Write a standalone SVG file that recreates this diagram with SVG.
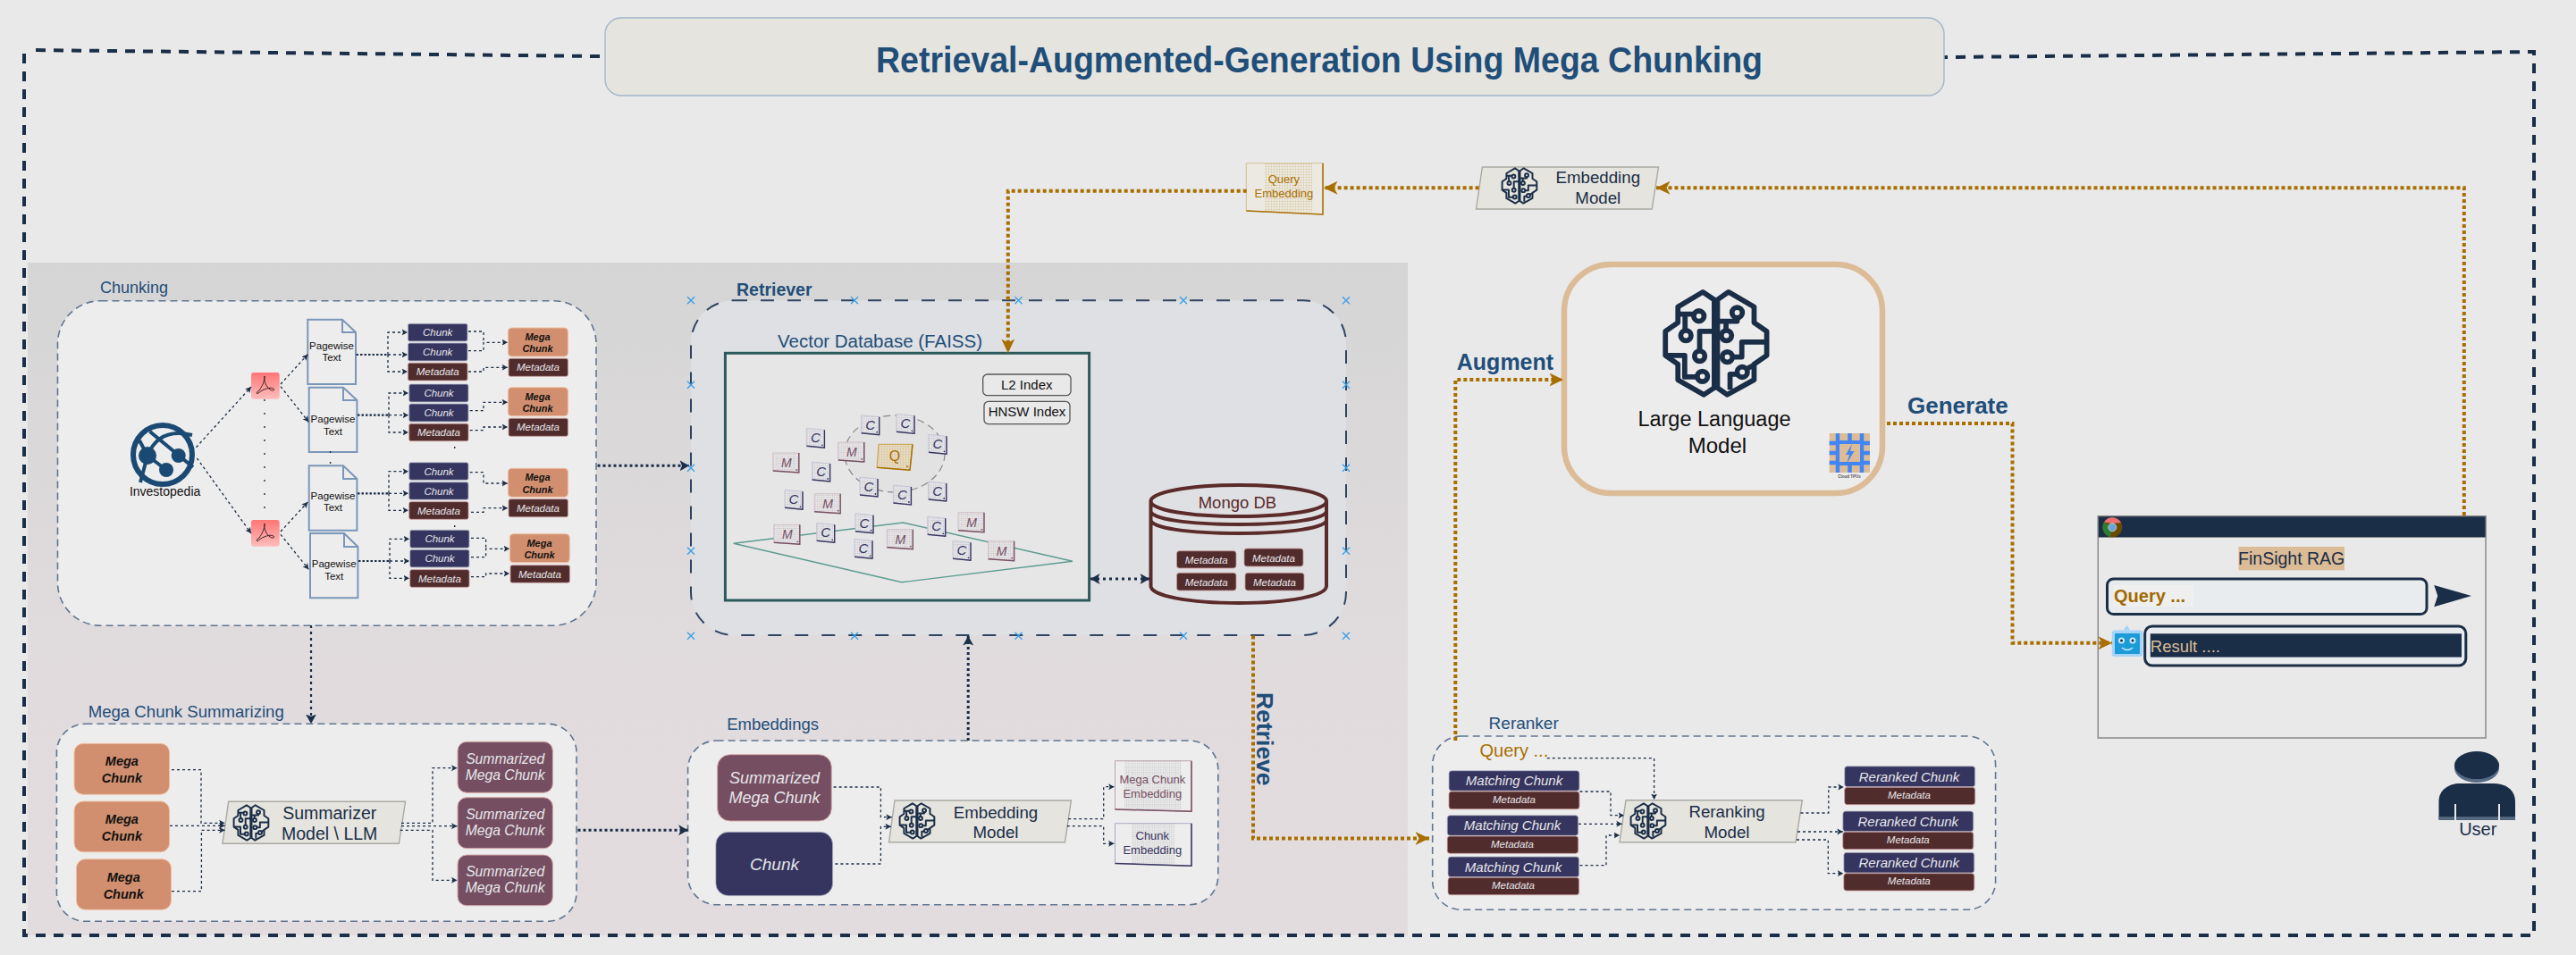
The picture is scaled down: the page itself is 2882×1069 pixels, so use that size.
<svg xmlns="http://www.w3.org/2000/svg" width="2882" height="1069" viewBox="0 0 2882 1069">
<style>
text{font-family:"Liberation Sans",Arial,sans-serif;text-anchor:middle}
.l{text-anchor:start;fill:#1f4e79;font-size:18.500px}
.hd{font-weight:700}
.panel{fill:#eeeded;stroke:#5f7690;stroke-width:1.600;stroke-dasharray:8 5}
.chunk{fill:#36355f;stroke:#b9bccb;stroke-width:.8}
.meta{fill:#512c2c;stroke:#c89a9a;stroke-width:.8}
.mega{fill:#d18f6f;stroke:#f0c0a5;stroke-width:1}
.sum{fill:#754f61;stroke:#d5a9a9;stroke-width:1}
.tc{fill:#e6e6ea;font-size:11.500px;font-style:italic}
.tmg{fill:#111;font-size:11px;font-style:italic;font-weight:700}
.tmb{fill:#111;font-size:14.500px;font-style:italic;font-weight:700}
.ts{fill:#e6e6ea;font-size:15.700px;font-style:italic}
.tl{fill:#e6e6ea;font-size:18px;font-style:italic}
.tw{fill:#e6e6ea;font-size:15px;font-style:italic}
.doc{fill:#eeeded;stroke:#7a96b8;stroke-width:2}
.td{fill:#111;font-size:11.500px}
.par{fill:#e6e4de;stroke:#a9a9a3;stroke-width:1.400}
.tp{fill:#1a2e47;font-size:18.700px}
.c1{fill:none;stroke:#1a2e47;stroke-width:1.300;stroke-dasharray:3 3;marker-end:url(#s)}
.c0{fill:none;stroke:#1a2e47;stroke-width:1.300;stroke-dasharray:3 3}
.c2{fill:none;stroke:#1a2e47;stroke-width:3;stroke-dasharray:3 3;marker-end:url(#m)}
.o{fill:none;stroke:#a86f00;stroke-width:4;stroke-dasharray:4 3;marker-end:url(#b)}
.fr{fill:none;stroke:#1a2e47;stroke-width:4;stroke-dasharray:11 9}
.x{fill:none;stroke:#3aa0e8;stroke-width:1.400}
.cc{fill:#36355f;font-size:15px;font-style:italic}
.cm{fill:#754f61;font-size:14px;font-style:italic}
.ec{font-size:13px}
</style>
<defs>
<linearGradient id="pg" x1="0" y1="0" x2="0" y2="1"><stop offset="0" stop-color="#d5d5d5"/><stop offset=".55" stop-color="#e0dbdd"/><stop offset="1" stop-color="#e3dcdf"/></linearGradient>
<linearGradient id="pdf" x1="0" y1="0" x2="0" y2="1"><stop offset="0" stop-color="#ff7676"/><stop offset="1" stop-color="#ffbcbc"/></linearGradient>
<pattern id="grid" width="2.400" height="2.400" patternUnits="userSpaceOnUse"><path d="M2.400 0H0V2.400" fill="none" stroke="#9a9aa5" stroke-width=".35"/></pattern>
<pattern id="grido" width="3" height="3" patternUnits="userSpaceOnUse"><path d="M3 0H0V3" fill="none" stroke="#c4a45e" stroke-width=".45"/></pattern>
<marker id="s" markerUnits="userSpaceOnUse" markerWidth="7" markerHeight="8" refX="6.500" refY="4" orient="auto"><path d="M0 .5L6.500 4L0 7.500L1.500 4Z" fill="#1a2e47"/></marker>
<marker id="m" markerUnits="userSpaceOnUse" markerWidth="11" markerHeight="13" refX="10.500" refY="6.500" orient="auto"><path d="M0 .5L10.500 6.500L0 12.500L2.500 6.500Z" fill="#1a2e47"/></marker>
<marker id="ms" markerUnits="userSpaceOnUse" markerWidth="11" markerHeight="13" refX="0" refY="6.500" orient="auto"><path d="M10.500 .5L0 6.500L10.500 12.500L8 6.500Z" fill="#1a2e47"/></marker>
<marker id="b" markerUnits="userSpaceOnUse" markerWidth="16" markerHeight="17" refX="15.500" refY="8" orient="auto"><path d="M0 .5L15.500 8L0 15.500L4 8Z" fill="#a86f00"/></marker>
<symbol id="brain" viewBox="-3 -3 127 128"><g fill="none" stroke="#1a2e47" stroke-width="6" stroke-linejoin="round"><path d="M58.300 10L45 1L16 18.300V36.700L1.400 46.700V75L16 85V103.300L46 120.700L58.300 112.700Z"/><path d="M62 10L74.800 1L104.700 18.300V36.700L119.400 46.700V75L104.700 85V103.300L73.500 120.700L62 112.700Z"/><path d="M16 26.700H34.400M24.300 26.700V46M58.300 46.700H41.300V70M1.400 75H23.900V100H39M62 35H85V31M72 35V46M119.400 59.300H90.400V76.700H80.300M76.700 115V96.700H85.500M95.500 91L103.300 86.700"/><circle cx="40.400" cy="29" r="6"/><circle cx="25.300" cy="51.700" r="6"/><circle cx="41.300" cy="75.700" r="6"/><circle cx="44.500" cy="99.300" r="6"/><circle cx="85" cy="25" r="6"/><circle cx="72.500" cy="51.700" r="6"/><circle cx="73.500" cy="76.700" r="6"/><circle cx="90.900" cy="94.300" r="6"/></g></symbol>
<g id="cardC"><path d="M-10-11L10-9V11L-10 9Z" fill="#e9e8ec"/><path d="M-10-11L10-9V11L-10 9Z" fill="url(#grid)" stroke="#b9b9cf" stroke-width=".7"/><path d="M10-9V11L-10 9" fill="none" stroke="#36355f" stroke-width="1.400"/><circle cx="7.500" cy="8" r=".9" fill="#36355f"/></g>
<g id="cardM"><path d="M-15-11L14-11V11L-15 9Z" fill="#ebe7e9"/><path d="M-15-11L14-11V11L-15 9Z" fill="url(#grid)" stroke="#c6b0b8" stroke-width=".7"/><path d="M14-11V11L-15 9" fill="none" stroke="#754f61" stroke-width="1.400"/><circle cx="11.500" cy="8" r=".9" fill="#754f61"/></g>
<g id="pdfg"><path d="M15 4C14 10 17 16 21 19C24 21 27 20 25 18C22 16 14 18 8 23C6 25 5 22 9 20C12 16 15 10 15 4Z" fill="none" stroke="#3b2320" stroke-width="1"/></g>
</defs>
<rect width="2882" height="1069" fill="#e9e9e9"/>
<rect x="31" y="294" width="1544" height="753" fill="url(#pg)"/>
<g id="connectors-frame">
<path class="fr" d="M671 63L33 56M27 60V1047H2835V58L2175 64"/>
</g>
<g id="title"><rect x="677" y="20" width="1498" height="87" rx="18" fill="#e6e4de" stroke="#a3b6cc" stroke-width="1.400"/><text x="1476" y="81" style="font-size:40px;font-weight:700;fill:#1f4e79" textLength="992" lengthAdjust="spacingAndGlyphs">Retrieval-Augmented-Generation Using Mega Chunking</text></g>

<g id="chunking">
<rect class="panel" x="64.500" y="336.700" width="602.500" height="363.500" rx="48"/>
<text class="l" x="112" y="328" style="font-size:18px">Chunking</text>
<g id="investopedia" fill="none" stroke="#1a4a73"><circle cx="182" cy="509" r="33" stroke-width="6"/><path d="M165 510C175 485 195 482 215 487M167.600 483L216 523M165 510L186 526M156 493L165 510L157 540" stroke-width="4"/><g fill="#1a4a73" stroke="none"><circle cx="165" cy="510" r="10"/><circle cx="199.700" cy="510" r="8"/><circle cx="186" cy="526" r="8"/></g></g>
<text class="td" x="184.600" y="555" style="font-size:14px">Investopedia</text>
<g id="pdf-a"><rect x="281" y="417" width="31.700" height="29.700" rx="3" fill="url(#pdf)"/><use href="#pdfg" x="281" y="417"/></g>
<g id="pdf-b"><rect x="281" y="582" width="31.700" height="29.700" rx="3" fill="url(#pdf)"/><use href="#pdfg" x="281" y="582"/></g>
<g id="doc-1"><path class="doc" d="M344.300 357.700H383L398 372V430H344.300ZM383 357.700V372H398"/><text class="td" x="371" y="390.700">Pagewise</text><text class="td" x="371" y="404">Text</text></g>
<g id="doc-2"><path class="doc" d="M345.700 433.700H384L399.400 448V506H345.700ZM384 433.700V448H399.400"/><text class="td" x="372.500" y="472.700">Pagewise</text><text class="td" x="372.500" y="486.700">Text</text></g>
<g id="doc-3"><path class="doc" d="M345.700 521.300H384L399.400 536V593.700H345.700ZM384 521.300V536H399.400"/><text class="td" x="372.500" y="558.700">Pagewise</text><text class="td" x="372.500" y="572">Text</text></g>
<g id="doc-4"><path class="doc" d="M347 597H385L400.400 612V669.300H347ZM385 597V612H400.400"/><text class="td" x="373.700" y="634.700">Pagewise</text><text class="td" x="373.700" y="648.700">Text</text></g>

<g id="set-1">
<rect class="chunk" x="456.400" y="362.300" width="66.600" height="19.700" rx="2"/><text class="tc" x="489.700" y="376.300">Chunk</text>
<rect class="chunk" x="456.400" y="384" width="66.600" height="20" rx="2"/><text class="tc" x="489.700" y="398">Chunk</text>
<rect class="meta" x="456.400" y="406.300" width="66.600" height="19.700" rx="2"/><text class="tc" x="489.700" y="420.300">Metadata</text>
<rect class="mega" x="568.400" y="367" width="67" height="32" rx="4"/><text class="tmg" x="601.500" y="381">Mega</text><text class="tmg" x="601.500" y="394">Chunk</text>
<rect class="meta" x="569" y="401.300" width="66.400" height="20" rx="2"/><text class="tc" x="602" y="415.300">Metadata</text>
</g>
<g id="set-2">
<rect class="chunk" x="457.700" y="430" width="66.300" height="20" rx="2"/><text class="tc" x="491" y="444">Chunk</text>
<rect class="chunk" x="457.700" y="452" width="66.300" height="20" rx="2"/><text class="tc" x="491" y="466">Chunk</text>
<rect class="meta" x="457.700" y="474.300" width="66.300" height="19.400" rx="2"/><text class="tc" x="491" y="488.300">Metadata</text>
<rect class="mega" x="568.400" y="433.700" width="67" height="32" rx="4"/><text class="tmg" x="601.500" y="447.700">Mega</text><text class="tmg" x="601.500" y="461">Chunk</text>
<rect class="meta" x="569" y="468.300" width="66.400" height="20" rx="2"/><text class="tc" x="602" y="482.300">Metadata</text>
</g>
<g id="set-3">
<rect class="chunk" x="457.700" y="517.700" width="66.300" height="19.600" rx="2"/><text class="tc" x="491" y="531.700">Chunk</text>
<rect class="chunk" x="457.700" y="539.700" width="66.300" height="19.600" rx="2"/><text class="tc" x="491" y="553.700">Chunk</text>
<rect class="meta" x="457.700" y="561.700" width="66.300" height="19.600" rx="2"/><text class="tc" x="491" y="575.700">Metadata</text>
<rect class="mega" x="568.400" y="524.300" width="67" height="32" rx="4"/><text class="tmg" x="601.500" y="538.300">Mega</text><text class="tmg" x="601.500" y="551.500">Chunk</text>
<rect class="meta" x="569" y="558.700" width="66.400" height="20" rx="2"/><text class="tc" x="602" y="572.700">Metadata</text>
</g>
<g id="set-4">
<rect class="chunk" x="458.700" y="593.300" width="66.300" height="20" rx="2"/><text class="tc" x="492" y="607.300">Chunk</text>
<rect class="chunk" x="458.700" y="615.300" width="66.300" height="19.700" rx="2"/><text class="tc" x="492" y="629.300">Chunk</text>
<rect class="meta" x="458.700" y="637.700" width="66.300" height="19.600" rx="2"/><text class="tc" x="492" y="651.700">Metadata</text>
<rect class="mega" x="570.300" y="597.700" width="67" height="32" rx="4"/><text class="tmg" x="603.500" y="611.700">Mega</text><text class="tmg" x="603.500" y="625">Chunk</text>
<rect class="meta" x="571" y="632.700" width="66.400" height="19.600" rx="2"/><text class="tc" x="604" y="646.700">Metadata</text>
</g>
</g>

<g id="retriever">
<rect x="773" y="336.300" width="733" height="374.700" rx="48" fill="#dfe0e3" stroke="#2e4460" stroke-width="2" stroke-dasharray="15 15"/>
<text class="l hd" x="824" y="330.700" style="font-size:19.500px">Retriever</text>
<path class="x" d="M769 332.300l8 8m0-8l-8 8M952 332.300l8 8m0-8l-8 8M1135.500 332.300l8 8m0-8l-8 8M1320 332.300l8 8m0-8l-8 8M1502 332.300l8 8m0-8l-8 8M769 426.700l8 8m0-8l-8 8M1502 426.700l8 8m0-8l-8 8M769 519.700l8 8m0-8l-8 8M1502 519.700l8 8m0-8l-8 8M769 612.700l8 8m0-8l-8 8M1502 612.700l8 8m0-8l-8 8M769 707.700l8 8m0-8l-8 8M952 707.700l8 8m0-8l-8 8M1135.500 707.700l8 8m0-8l-8 8M1320 707.700l8 8m0-8l-8 8M1502 707.700l8 8m0-8l-8 8"/>
</g>
<g id="vector-db">
<text class="l" x="870" y="389" style="font-size:20.500px">Vector Database (FAISS)</text>
<rect x="811.400" y="395.300" width="407.200" height="276.700" fill="#e6e6e7" stroke="#2c5a5a" stroke-width="3"/>
<g id="l2-index"><rect x="1099.700" y="419" width="98.300" height="23.700" rx="5" fill="#e9e9e9" stroke="#555" stroke-width="1.300"/><text x="1148.700" y="436" fill="#111" style="font-size:15px">L2 Index</text></g>
<g id="hnsw-index"><rect x="1101" y="449.300" width="96" height="25.400" rx="5" fill="#e9e9e9" stroke="#555" stroke-width="1.300"/><text x="1149" y="466" fill="#111" style="font-size:15px">HNSW Index</text></g>
<ellipse cx="1001" cy="508" rx="56" ry="43" fill="#e2e2e3" stroke="#888" stroke-width="1.200" stroke-dasharray="8 5"/>
<path d="M820.600 608.300L1010.400 585L1200 628.300L1008.900 651.700Z" fill="none" stroke="#5c9c90" stroke-width="1.400"/>
<g transform="translate(973.700 475.700)"><use href="#cardC"/><text class="cc" y="5">C</text></g>
<g transform="translate(1013 474.300)"><use href="#cardC"/><text class="cc" y="5">C</text></g>
<g transform="translate(1049 497.300)"><use href="#cardC"/><text class="cc" y="5">C</text></g>
<g transform="translate(912.400 490.300)"><use href="#cardC"/><text class="cc" y="5">C</text></g>
<g transform="translate(918.600 528)"><use href="#cardC"/><text class="cc" y="5">C</text></g>
<g transform="translate(972 545)"><use href="#cardC"/><text class="cc" y="5">C</text></g>
<g transform="translate(1009.400 554)"><use href="#cardC"/><text class="cc" y="5">C</text></g>
<g transform="translate(1048.700 550)"><use href="#cardC"/><text class="cc" y="5">C</text></g>
<g transform="translate(888 559.300)"><use href="#cardC"/><text class="cc" y="5">C</text></g>
<g transform="translate(967 585.700)"><use href="#cardC"/><text class="cc" y="5">C</text></g>
<g transform="translate(923.700 596.300)"><use href="#cardC"/><text class="cc" y="5">C</text></g>
<g transform="translate(1047.700 589.300)"><use href="#cardC"/><text class="cc" y="5">C</text></g>
<g transform="translate(966 614.300)"><use href="#cardC"/><text class="cc" y="5">C</text></g>
<g transform="translate(1076 616.300)"><use href="#cardC"/><text class="cc" y="5">C</text></g>
<g transform="translate(952.800 506)"><use href="#cardM"/><text class="cm" y="5">M</text></g>
<g transform="translate(879.800 518)"><use href="#cardM"/><text class="cm" y="5">M</text></g>
<g transform="translate(926.200 563.700)"><use href="#cardM"/><text class="cm" y="5">M</text></g>
<g transform="translate(880.800 598.300)"><use href="#cardM"/><text class="cm" y="5">M</text></g>
<g transform="translate(1007.300 603.700)"><use href="#cardM"/><text class="cm" y="5">M</text></g>
<g transform="translate(1087 584.700)"><use href="#cardM"/><text class="cm" y="5">M</text></g>
<g transform="translate(1120.600 616.700)"><use href="#cardM"/><text class="cm" y="5">M</text></g>
<g transform="translate(1001 511.300)"><path d="M-18-14L20-14L17 15L-20 12Z" fill="#e6dcc6"/><path d="M-18-14L20-14L17 15L-20 12Z" fill="url(#grido)" stroke="#c99f45" stroke-width="1"/><path d="M20-14L17 15L-20 12" fill="none" stroke="#a86f00" stroke-width="1.500"/><circle cx="14" cy="11" r="1" fill="#a86f00"/><text y="5" style="font-size:16px;fill:#a86f00">Q</text></g>
</g>
<g id="mongo-db">
<path d="M1287.500 561C1287.500 551 1330 543 1386 543S1484 551 1484 561C1484 571 1442 578 1386 578S1287.500 571 1287.500 561V656C1287.500 667 1330 675 1386 675S1484 667 1484 656V561M1287.500 572C1287.500 581 1330 587 1386 587S1484 581 1484 572M1287.500 582C1287.500 591 1330 597 1386 597S1484 591 1484 582" fill="none" stroke="#5b2a2a" stroke-width="4"/>
<text x="1384.400" y="569" fill="#5b2a2a" style="font-size:18.500px">Mongo DB</text>
<rect class="meta" x="1316.500" y="616.700" width="66.500" height="19.300" rx="3"/><text class="tc" x="1349.700" y="631">Metadata</text>
<rect class="meta" x="1392" y="614" width="66" height="20" rx="3"/><text class="tc" x="1425" y="628.500">Metadata</text>
<rect class="meta" x="1316.500" y="641.300" width="66.500" height="19.700" rx="3"/><text class="tc" x="1349.700" y="656">Metadata</text>
<rect class="meta" x="1393" y="641.300" width="66" height="19.700" rx="3"/><text class="tc" x="1426" y="656">Metadata</text>
</g>

<g id="summarizing">
<rect class="panel" x="63.400" y="810.300" width="581.600" height="221" rx="32"/>
<text class="l" x="98.700" y="803" style="font-size:18.600px">Mega Chunk Summarizing</text>
<g id="mc-1"><rect class="mega" x="83" y="832.300" width="106.600" height="57" rx="10"/><text class="tmb" x="136.400" y="857.300">Mega</text><text class="tmb" x="136.400" y="875.700">Chunk</text></g>
<g id="mc-2"><rect class="mega" x="83" y="897" width="106.600" height="56.700" rx="10"/><text class="tmb" x="136.400" y="922.300">Mega</text><text class="tmb" x="136.400" y="940.700">Chunk</text></g>
<g id="mc-3"><rect class="mega" x="85.400" y="961.700" width="106.100" height="56.600" rx="10"/><text class="tmb" x="138.200" y="987.300">Mega</text><text class="tmb" x="138.200" y="1005.700">Chunk</text></g>
<g id="summarizer"><path class="par" d="M255.700 897.300H453.600L446.300 944.300H248.900Z"/><use href="#brain" x="260" y="900" width="42" height="42"/><text class="tp" x="368.700" y="916.700" style="font-size:19.500px">Summarizer</text><text class="tp" x="368.700" y="940" style="font-size:19.500px">Model \ LLM</text></g>
<g id="sm-1"><rect class="sum" x="512" y="830.300" width="106.400" height="57" rx="10"/><text class="ts" x="565.200" y="854.700">Summarized</text><text class="ts" x="565.200" y="873.300">Mega Chunk</text></g>
<g id="sm-2"><rect class="sum" x="512" y="892.700" width="106.400" height="57" rx="10"/><text class="ts" x="565.200" y="916.700">Summarized</text><text class="ts" x="565.200" y="935.300">Mega Chunk</text></g>
<g id="sm-3"><rect class="sum" x="512" y="957" width="106.400" height="56.700" rx="10"/><text class="ts" x="565.200" y="980.700">Summarized</text><text class="ts" x="565.200" y="999.300">Mega Chunk</text></g>
</g>

<g id="embeddings">
<rect class="panel" x="769.600" y="829" width="593.200" height="183.700" rx="32"/>
<text class="l" x="813.200" y="817.300">Embeddings</text>
<g id="em-sum"><rect class="sum" x="802.600" y="844.700" width="127.700" height="74.300" rx="14"/><text class="tl" x="866.500" y="876.700">Summarized</text><text class="tl" x="866.500" y="898.700">Mega Chunk</text></g>
<g id="em-chunk"><rect class="chunk" x="800.800" y="931.300" width="130.900" height="71.400" rx="14"/><text class="tl" x="866.500" y="974" style="font-size:19px">Chunk</text></g>
<g id="em-model"><path class="par" d="M1001 896H1198.400L1191.500 942.700H994.600Z"/><use href="#brain" x="1005" y="898" width="42" height="42"/><text class="tp" x="1114" y="915.700">Embedding</text><text class="tp" x="1114" y="938">Model</text></g>
<g id="em-mc"><path d="M1247.500 851.700H1333V908.300L1247.500 906Z" fill="#eeeded" stroke="#b9a2ab" stroke-width="1"/><rect x="1258" y="852" width="63.500" height="55" fill="url(#grid)"/><path d="M1333 851.700V908.300L1247.500 906" fill="none" stroke="#754f61" stroke-width="1.500"/><text class="ec" x="1289.300" y="877.300" fill="#754f61">Mega Chunk</text><text class="ec" x="1289.300" y="893.300" fill="#754f61">Embedding</text></g>
<g id="em-ce"><path d="M1247.500 921.700H1333V969.300L1247.500 966.500Z" fill="#eeeded" stroke="#a9a9c4" stroke-width="1"/><rect x="1266" y="922" width="48" height="45" fill="url(#grid)"/><path d="M1333 921.700V969.300L1247.500 966.500" fill="none" stroke="#36355f" stroke-width="1.500"/><text class="ec" x="1289.300" y="940" fill="#36355f">Chunk</text><text class="ec" x="1289.300" y="956" fill="#36355f">Embedding</text></g>
</g>

<g id="reranker">
<rect class="panel" x="1602.700" y="824" width="629.900" height="194.300" rx="32"/>
<text class="l" x="1665.600" y="816" style="font-size:19px">Reranker</text>
<text class="l" x="1655.500" y="847.300" style="fill:#a86f00;font-size:20px">Query ...</text>
<g id="mt-1"><rect class="chunk" x="1621" y="862.700" width="146" height="22.600" rx="3"/><text class="tw" x="1694" y="879">Matching Chunk</text><rect class="meta" x="1621" y="886" width="146" height="19.700" rx="3"/><text class="tc" x="1694" y="899.300">Metadata</text></g>
<g id="mt-2"><rect class="chunk" x="1619.200" y="912.700" width="146.500" height="22.600" rx="3"/><text class="tw" x="1692" y="929">Matching Chunk</text><rect class="meta" x="1619.200" y="936" width="146.500" height="19.300" rx="3"/><text class="tc" x="1692" y="949.300">Metadata</text></g>
<g id="mt-3"><rect class="chunk" x="1620" y="959" width="146.600" height="22.700" rx="3"/><text class="tw" x="1693" y="975.500">Matching Chunk</text><rect class="meta" x="1620" y="982.300" width="146.600" height="19.400" rx="3"/><text class="tc" x="1693" y="995.300">Metadata</text></g>
<g id="rerank-model"><path class="par" d="M1819 895.700H2016.400L2009 942.700H1812Z"/><use href="#brain" x="1823" y="898" width="42" height="42"/><text class="tp" x="1932" y="915">Reranking</text><text class="tp" x="1932" y="937.700">Model</text></g>
<g id="rr-1"><rect class="chunk" x="2063.700" y="857.700" width="146" height="23" rx="3"/><text class="tw" x="2136" y="874.500">Reranked Chunk</text><rect class="meta" x="2063.700" y="881.300" width="146" height="19.400" rx="3"/><text class="tc" x="2136" y="894.300">Metadata</text></g>
<g id="rr-2"><rect class="chunk" x="2061.800" y="908" width="146" height="22.700" rx="3"/><text class="tw" x="2134.800" y="924.500">Reranked Chunk</text><rect class="meta" x="2061.800" y="931.300" width="146" height="19.400" rx="3"/><text class="tc" x="2134.800" y="944.300">Metadata</text></g>
<g id="rr-3"><rect class="chunk" x="2062.800" y="954.300" width="146" height="22.700" rx="3"/><text class="tw" x="2135.800" y="970.500">Reranked Chunk</text><rect class="meta" x="2062.800" y="977.700" width="146" height="19.300" rx="3"/><text class="tc" x="2135.800" y="990.300">Metadata</text></g>
</g>

<g id="llm">
<rect x="1750" y="296" width="356" height="256" rx="52" fill="#edecec" stroke="#dcbc97" stroke-width="6.500"/>
<use href="#brain" x="1859" y="323" width="122" height="123"/>
<text x="1918" y="477" fill="#111" style="font-size:23.500px">Large Language</text>
<text x="1921.400" y="506.700" fill="#111" style="font-size:24px">Model</text>
<g id="tpu"><rect x="2046.700" y="485" width="45.300" height="44" fill="#dcbc97"/><path d="M2056 485V529M2069.500 485V529M2083 485V529M2046.700 496H2092M2046.700 507H2092M2046.700 518H2092" stroke="#4285f4" stroke-width="4.500"/><rect x="2056" y="495" width="27" height="24" fill="#dcbc97" stroke="#4285f4" stroke-width="4"/><path d="M2072 497L2065 509H2069L2066 519L2074.500 505H2070Z" fill="#4285f4"/><text x="2069" y="534.500" fill="#555" style="font-size:4.500px;font-weight:700">Cloud TPUs</text></g>
</g>

<g id="top-embedding">
<path class="par" d="M1658.400 187H1855.500L1848.200 234H1651.500Z"/><use href="#brain" x="1679" y="187" width="42" height="42"/><text class="tp" x="1787.800" y="205">Embedding</text><text class="tp" x="1787.800" y="228.300">Model</text>
</g>
<g id="query-embedding">
<path d="M1394.300 182.700H1480V240L1394.300 236Z" fill="#ece9e2" stroke="#d3bf94" stroke-width="1"/><rect x="1414.600" y="183" width="53.400" height="54" fill="url(#grido)"/><path d="M1480 182.700V240L1394.300 236" fill="none" stroke="#a86f00" stroke-width="1.500"/>
<text class="ec" x="1436.400" y="205" fill="#a86f00">Query</text><text class="ec" x="1436.400" y="220.700" fill="#a86f00">Embedding</text>
</g>

<g id="app">
<rect x="2347.300" y="577.800" width="433.700" height="248.200" fill="#e9e9e9" stroke="#888" stroke-width="1.500"/>
<rect x="2347.300" y="577.800" width="433.700" height="23.700" fill="#1a2e47" stroke="#888" stroke-width="1"/>
<g id="chrome"><circle cx="2363.300" cy="590.300" r="11" fill="#6b4a00"/><path d="M2354 584.500A11 11 0 0 1 2373 585L2363.300 586Z" fill="#f07070"/><path d="M2354 584.500A11 11 0 0 0 2361 601L2363.300 590Z" fill="#2e7d32"/><circle cx="2363.300" cy="590.300" r="4.500" fill="#6ca6d9" stroke="#e9e9e9" stroke-width=".6"/></g>
<rect x="2504.500" y="612" width="118.500" height="26.300" fill="#dcbc97"/>
<text x="2563.700" y="632" fill="#1a2e47" style="font-size:19.500px">FinSight RAG</text>
<rect x="2357.500" y="648" width="357.500" height="39.600" rx="7" fill="#e9ecef" stroke="#1a2e47" stroke-width="3"/>
<rect x="2364.500" y="655" width="89.300" height="23.500" fill="#efefef"/>
<text x="2365" y="673.500" style="text-anchor:start;font-size:20px;font-weight:700;fill:#a06a00">Query ...</text>
<path d="M2723.200 654.900L2765 667L2723.200 679.200L2727.300 667Z" fill="#1a2e47"/>
<rect x="2399.700" y="701" width="359.100" height="44" rx="8" fill="#e9ecef" stroke="#1a2e47" stroke-width="3"/>
<rect x="2405.800" y="709.300" width="348.200" height="26.300" fill="#1a2e47"/>
<text x="2405.800" y="729.500" style="text-anchor:start;font-size:18.500px;fill:#dcbc97">Result ....</text>
<g id="bot"><path d="M2376 705L2379.600 700L2383 705Z" fill="#9fd0fa"/><rect x="2362.800" y="705.500" width="34.500" height="29.500" rx="3" fill="#a7d4fa"/><rect x="2366" y="709" width="28" height="23" fill="#1b9cd8"/><circle cx="2373.500" cy="717" r="3.500" fill="#cfe8fb"/><circle cx="2386" cy="717" r="3.500" fill="#cfe8fb"/><circle cx="2373.500" cy="717" r="1.500" fill="#1a2e47"/><circle cx="2386" cy="717" r="1.500" fill="#1a2e47"/><path d="M2374 725Q2380 730 2386 725" fill="none" stroke="#cfe8fb" stroke-width="1.500"/></g>
</g>
<g id="user">
<ellipse cx="2771" cy="860" rx="25" ry="16" fill="#566b84"/><ellipse cx="2771" cy="856.600" rx="25" ry="15.500" fill="#1a2e47"/>
<path d="M2728.500 917.700V897C2728.500 884 2740 877 2752 877H2790C2803 877 2814 884 2814 897V917.700Z" fill="#1a2e47"/>
<path d="M2728.500 915.700H2814" stroke="#566b84" stroke-width="3"/>
<path d="M2747 900V918M2796 900V918" stroke="#e9e9e9" stroke-width="2"/>
<text x="2772.300" y="935" fill="#1a2e47" style="font-size:20px">User</text>
</g>

<g id="connectors">
<path class="c1" d="M219.500 500.700L281 433"/><path class="c1" d="M220.400 513L281 597"/>
<path class="c1" d="M314 430L344.300 396.700"/><path class="c1" d="M314 432.700L345.300 472.300"/>
<path class="c1" d="M314 595L344.300 562"/><path class="c1" d="M314 598.300L345.300 637.300"/>
<path d="M296 447V582" fill="none" stroke="#1a2e47" stroke-width="1.400" stroke-dasharray="2 13"/>
<path d="M508.700 500v2M369.600 505v2M369.600 517v2M508.700 588v2" fill="none" stroke="#1a2e47" stroke-width="1.400"/>
<path d="M398.500 397H434" fill="none" stroke="#1a2e47" stroke-width="2.200" stroke-dasharray="2.500 2"/>
<path class="c1" d="M434 397H456"/><path class="c1" d="M434 397V372H456"/><path class="c1" d="M434 397V416H456"/>
<path d="M400 464.700H435M400 552.300H435M401 628H436" fill="none" stroke="#1a2e47" stroke-width="2.200" stroke-dasharray="2.500 2"/>
<path class="c1" d="M435 464.700H457"/><path class="c1" d="M435 464.700V440H457"/><path class="c1" d="M435 464.700V484H457"/>
<path class="c1" d="M435 552.300H457"/><path class="c1" d="M435 552.300V527.700H457"/><path class="c1" d="M435 552.300V571.300H457"/>
<path class="c1" d="M436 628H458"/><path class="c1" d="M436 628V603.300H458"/><path class="c1" d="M436 628V647.300H458"/>
<path class="c0" d="M524 371H541V383.300"/><path class="c1" d="M524 392.700H541V383.300H568"/><path class="c1" d="M524 416H541V411.300H568"/>
<path class="c1" d="M525.700 459.700H541V450.300H568"/><path class="c1" d="M525.700 481.700H541V478H568"/>
<path class="c1" d="M525.700 528.700H541V541H568"/><path class="c1" d="M527 573.300H541V568.700H568"/>
<path class="c0" d="M527 602.300H543.600V614.300"/><path class="c1" d="M527 623.700H543.600V614.300H570"/><path class="c1" d="M527 645.700H543.600V642H570"/>
<path class="c2" d="M668.500 521.300H771"/>
<path d="M348 700V810" fill="none" stroke="#1a2e47" stroke-width="2.200" stroke-dasharray="3 4" marker-end="url(#m)"/>
<path class="c1" d="M192 861.700H225V921.300H251.600"/><path class="c1" d="M190 924.300H251.600"/><path class="c1" d="M192 997.700H225.400V929.300H251.600"/>
<path class="c1" d="M449 921.300H484V859.700H511.500"/><path class="c1" d="M449 924.700H511.500"/><path class="c1" d="M447.700 929.300H484V985.300H511.500"/>
<path class="c2" d="M646.500 929.300H769.600"/>
<path class="c1" d="M932.600 881H985.400V914.700H997.800"/><path class="c1" d="M934.400 967H985.400V925.300H996.900"/>
<path class="c1" d="M1195.200 916.700H1234.700V880.700H1246.600"/><path class="c1" d="M1193.800 924.700H1234.700V944.300H1246.600"/>
<path class="c2" d="M1083.200 829V712"/>
<path d="M1220 648H1286" fill="none" stroke="#1a2e47" stroke-width="3" stroke-dasharray="3 4" marker-start="url(#ms)" marker-end="url(#m)"/>
<path class="c1" d="M1730.800 848.700H1850.600V895"/>
<path class="c1" d="M1767.500 886H1802V912.700H1817"/><path class="c1" d="M1766 922.300H1814.800"/><path class="c1" d="M1767.500 968.700H1797V935H1812"/>
<path class="c1" d="M2014.500 910H2045.800V881H2062.800"/><path class="c1" d="M2011 931H2061.800"/><path class="c1" d="M2010 940H2045.300V977.700H2062.300"/>
<path class="o" d="M1394.700 213.700H1127.800V395"/>
<path class="o" d="M1654.600 210.300H1481"/>
<path class="o" d="M2756.800 577V210.300H1853"/>
<path class="o" d="M1402 711.500V938.500H1599"/>
<path class="o" d="M1628.300 829V425H1749"/>
<path class="o" d="M2111 474H2251.500V719.700H2363"/>
</g>
<g id="step-labels">
<text class="l hd" x="1629.800" y="414" style="font-size:25px">Augment</text>
<text class="l hd" x="2134" y="463.300" style="font-size:26px">Generate</text>
<text class="l hd" transform="translate(1406 775) rotate(90)" style="font-size:26.500px">Retrieve</text>
</g>
</svg>
